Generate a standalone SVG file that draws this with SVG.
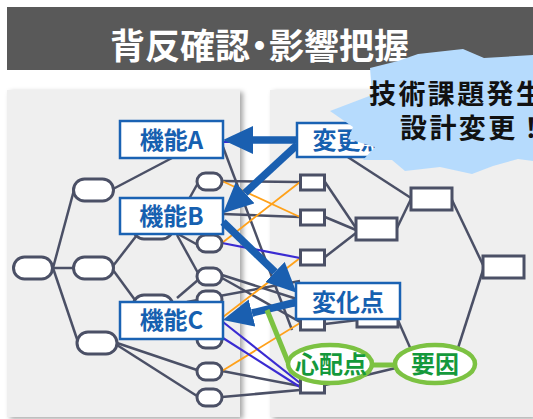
<svg xmlns="http://www.w3.org/2000/svg" width="533" height="419" viewBox="0 0 533 419">
<defs>
<filter id="sh" x="-10%" y="-10%" width="125%" height="125%"><feDropShadow dx="3" dy="2" stdDeviation="2.5" flood-color="#000" flood-opacity="0.35"/></filter>
<marker id="ah" markerUnits="userSpaceOnUse" markerWidth="30" markerHeight="28" viewBox="0 0 30 28" refX="0" refY="14" orient="auto"><path d="M0,0 L30,14 L0,28 z" fill="#1a5fb0"/></marker>
<style>
.g{stroke:#4b5066;stroke-width:2.5;fill:none}
.o{stroke:#ffa11a;stroke-width:1.8;fill:none}
.p{stroke:#3a2bd2;stroke-width:2.2;fill:none}
.nd{fill:#fff;stroke:#4b5066;stroke-width:3}
.fb{fill:#fff;stroke:#1a62b3;stroke-width:2.5}
.ft{font-family:"Noto Sans CJK JP","Noto Sans",sans-serif;font-weight:bold;font-size:24px;fill:#1660b0;text-anchor:middle}
.arr{stroke:#1a5fb0;stroke-width:7.5;fill:none;marker-end:url(#ah)}
.gl{stroke:#7cc242;stroke-width:5;fill:none}
.ge{fill:#fff;stroke:#7cc242;stroke-width:4.5}
.gt{font-family:"Noto Sans CJK JP","Noto Sans",sans-serif;font-weight:bold;font-size:24px;fill:#14993b;text-anchor:middle}
.ct{font-family:"Noto Sans CJK JP","Noto Sans",sans-serif;font-weight:bold;font-size:27px;fill:#111;letter-spacing:2.4px}
</style>
</defs>
<rect width="533" height="419" fill="#fff"/>
<g id="title">
<rect x="7" y="7" width="526" height="63" fill="#595959"/>
<text x="110" y="59" font-family="'Noto Sans CJK JP','Noto Sans',sans-serif" font-weight="bold" font-size="35" fill="#fff">背反確認<tspan dx="-8">・</tspan><tspan dx="-8">影響把握</tspan></text>
</g>
<g id="panels">
<rect x="7" y="90" width="233" height="327" fill="#efefef" filter="url(#sh)"/>
<rect x="270" y="90" width="263" height="327" fill="#efefef" filter="url(#sh)"/>
</g>
<g id="connectors">
<line class="g" x1="53" y1="268" x2="74" y2="190"/>
<line class="g" x1="52" y1="268" x2="73" y2="268"/>
<line class="g" x1="53" y1="268" x2="78" y2="342"/>
<line class="g" x1="113" y1="189" x2="172" y2="158"/>
<line class="g" x1="113" y1="266" x2="137" y2="235"/>
<line class="g" x1="113" y1="270" x2="135" y2="300"/>
<line class="g" x1="117" y1="343" x2="197" y2="370"/>
<line class="g" x1="117" y1="345" x2="197" y2="396"/>
<line class="g" x1="180" y1="215" x2="198" y2="183"/>
<line class="g" x1="178" y1="234" x2="198" y2="245"/>
<line class="g" x1="177" y1="235" x2="198" y2="273"/>
<line class="g" x1="177" y1="298" x2="198" y2="280"/>
<line class="g" x1="222" y1="181" x2="300" y2="182"/>
<line class="g" x1="223" y1="214" x2="300" y2="217"/>
<line class="g" x1="223" y1="147" x2="292" y2="330"/>
<line class="g" x1="222" y1="275" x2="300" y2="300"/>
<line class="g" x1="222" y1="278" x2="300" y2="322"/>
<line class="g" x1="187" y1="302" x2="300" y2="281"/>
<line class="g" x1="222" y1="371" x2="300" y2="386"/>
<line class="g" x1="222" y1="397" x2="300" y2="390"/>
<line class="g" x1="325" y1="182" x2="356" y2="228"/>
<line class="g" x1="325" y1="217" x2="356" y2="230"/>
<line class="g" x1="325" y1="257" x2="356" y2="233"/>
<line class="g" x1="397" y1="228" x2="411" y2="199"/>
<line class="g" x1="340" y1="152" x2="411" y2="198"/>
<line class="g" x1="452" y1="200" x2="484" y2="267"/>
<line class="g" x1="484" y1="267" x2="458" y2="348"/>
<line class="g" x1="397" y1="318" x2="412" y2="352"/>
<line class="g" x1="325" y1="385" x2="400" y2="367"/>
<line class="g" x1="325" y1="324" x2="358" y2="320"/>
<line class="o" x1="222" y1="181" x2="300" y2="217"/>
<line class="o" x1="222" y1="243" x2="300" y2="182"/>
<line class="o" x1="223" y1="317" x2="300" y2="258"/>
<line class="o" x1="222" y1="371" x2="300" y2="323"/>
<line class="p" x1="222" y1="243" x2="300" y2="258"/>
<line class="p" x1="223" y1="322" x2="300" y2="383"/>
<line class="p" x1="223" y1="338" x2="300" y2="387"/>
<line class="p" x1="223" y1="142" x2="297" y2="142"/>
<line class="p" x1="270" y1="309" x2="297" y2="305"/>
</g>
<g id="n-L0"><rect class="nd" x="13.5" y="257" width="39" height="22" rx="11"/></g>
<g id="n-L1"><rect class="nd" x="73.5" y="179" width="40" height="22" rx="11"/></g>
<g id="n-L2"><rect class="nd" x="73.5" y="257" width="40" height="22" rx="11"/></g>
<g id="n-L3"><rect class="nd" x="77" y="332" width="40" height="22" rx="11"/></g>
<g id="n-M1"><rect class="nd" x="133" y="217" width="40" height="22" rx="11"/></g>
<g id="n-M2"><rect class="nd" x="133" y="295" width="40" height="22" rx="11"/></g>
<g id="n-S1"><rect class="nd" x="197" y="173" width="25" height="17" rx="8.5"/></g>
<g id="n-S3"><rect class="nd" x="197" y="235" width="25" height="17" rx="8.5"/></g>
<g id="n-S4"><rect class="nd" x="197" y="268" width="25" height="17" rx="8.5"/></g>
<g id="n-S5"><rect class="nd" x="197" y="291" width="25" height="17" rx="8.5"/></g>
<g id="n-S6"><rect class="nd" x="197" y="331" width="25" height="17" rx="8.5"/></g>
<g id="n-S7"><rect class="nd" x="197" y="363" width="25" height="17" rx="8.5"/></g>
<g id="n-S8"><rect class="nd" x="197" y="389" width="25" height="17" rx="8.5"/></g>
<g id="n-R1"><rect class="nd" x="300.5" y="175" width="24" height="15"/></g>
<g id="n-R2"><rect class="nd" x="300.5" y="210" width="24" height="15"/></g>
<g id="n-R3"><rect class="nd" x="300.5" y="250" width="24" height="15"/></g>
<g id="n-R4"><rect class="nd" x="300.5" y="315" width="24" height="15"/></g>
<g id="n-R5"><rect class="nd" x="300.5" y="378" width="24" height="15"/></g>
<g id="n-Q1"><rect class="nd" x="356" y="218" width="41" height="22"/></g>
<g id="n-Q2"><rect class="nd" x="357" y="305" width="41" height="22"/></g>
<g id="n-T1"><rect class="nd" x="411" y="188" width="41" height="22"/></g>
<g id="n-U"><rect class="nd" x="483" y="256" width="41" height="22"/></g>
<g id="n-funcA"><rect class="fb" x="120" y="121" width="103" height="37"/><text class="ft" x="171.5" y="149">機能A</text></g>
<g id="n-funcB"><rect class="fb" x="120" y="198" width="103" height="36"/><text class="ft" x="171.5" y="225">機能B</text></g>
<g id="n-funcC"><rect class="fb" x="120" y="302" width="103" height="37"/><text class="ft" x="171.5" y="329">機能C</text></g>
<g id="arrows">
<line class="arr" x1="297" y1="140" x2="253" y2="140"/>
<line class="arr" x1="297" y1="145" x2="245" y2="193"/>
<line class="arr" x1="223" y1="222" x2="275" y2="272"/>
<line class="arr" x1="297" y1="302" x2="252" y2="313"/>
</g>
<g id="n-henkouten"><rect class="fb" x="297" y="123" width="103" height="34"/><text class="ft" x="348.5" y="149">変更点</text></g>
<g id="n-henkaten"><rect class="fb" x="296" y="283" width="104" height="36"/><text class="ft" x="348" y="311">変化点</text></g>
<g id="green-links">
<line class="gl" x1="267" y1="310" x2="288" y2="362"/>
<line class="gl" x1="372" y1="365" x2="397" y2="365"/>
</g>
<g id="n-shinpaiten"><ellipse class="ge" cx="330" cy="364" rx="42" ry="19"/><text class="gt" x="331" y="373">心配点</text></g>
<g id="n-youin"><ellipse class="ge" cx="435" cy="364" rx="40" ry="19"/><text class="gt" x="435" y="373">要因</text></g>
<g id="callout">
<polygon fill="#b6dbfd" points="370,68 398,61 418,54 463,49 484,58 533,55 533,161 518,159 493,166 472,174 440,167 405,171 392,160 363,160 375,147 348,139 353,127 330,111 372,95"/>
<text class="ct" x="369" y="104">技術課題発生</text>
<text class="ct" x="400" y="138">設計変更！</text>
</g>
</svg>
